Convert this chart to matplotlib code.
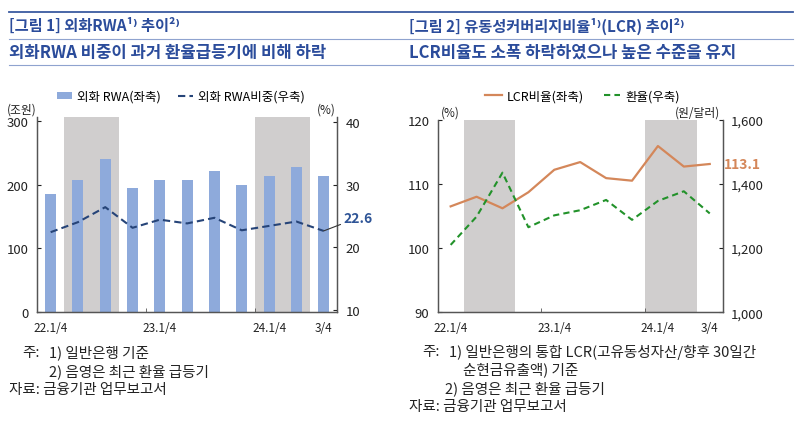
import matplotlib
matplotlib.use("Agg")
import matplotlib.pyplot as plt
from matplotlib.lines import Line2D

plt.rcParams['font.family'] = ['Noto Sans CJK KR', 'DejaVu Sans']
plt.rcParams['axes.unicode_minus'] = False

# 데이터
quarters = ['22.1/4', '22.2/4', '22.3/4', '22.4/4', '23.1/4', '23.2/4', '23.3/4', '23.4/4',
            '24.1/4', '24.2/4', '24.3/4']
tick_idx = [0, 4, 8, 10]
tick_lab = ['22.1/4', '23.1/4', '24.1/4', '3/4']
fx_rwa = [186, 207, 240, 195, 208, 207, 221, 199, 214, 228, 214]        # 조원
fx_rwa_share = [22.4, 24.0, 26.4, 23.1, 24.4, 23.8, 24.7, 22.7, 23.4, 24.1, 22.6]  # %
lcr = [106.5, 108.0, 106.2, 108.7, 112.2, 113.4, 110.9, 110.5, 115.9, 112.7, 113.1]  # %
krw_usd = [1210, 1298, 1435, 1265, 1302, 1318, 1350, 1288, 1347, 1377, 1308]  # 원/달러
shade = [(0.5, 2.5), (7.5, 9.5)]

W, H = 800, 431
BAR_C = '#8EAADB'
SHADE_C = '#D0CECE'
NAVY = '#264478'
ORANGE = '#D4875A'
GREEN = '#22922A'
TITLE_C = '#2B4C9B'
TXT = '#222222'


def fxy(x, y):
    return x / W, 1 - y / H


def box(x0, y0, x1, y1):
    return [x0 / W, 1 - y1 / H, (x1 - x0) / W, (y1 - y0) / H]


fig = plt.figure(figsize=(8, 4.31), dpi=100)

# 상단 제목 줄
for y, lw, c in [(13, 1.3, '#3A5AA0'), (39.5, 0.8, '#8FA3CF'), (66, 0.8, '#8FA3CF')]:
    fig.add_artist(Line2D([9 / W, 793 / W], [1 - y / H, 1 - y / H], lw=lw, color=c))

fig.text(*fxy(9, 26), '[그림 1] 외화RWA¹⁾ 추이²⁾', fontsize=11, fontweight='bold',
         color=TITLE_C, va='center', ha='left')
fig.text(*fxy(9, 53), '외화RWA 비중이 과거 환율급등기에 비해 하락', fontsize=12, fontweight='bold',
         color=TITLE_C, va='center', ha='left')
fig.text(*fxy(409, 26), '[그림 2] 유동성커버리지비율¹⁾(LCR) 추이²⁾', fontsize=11, fontweight='bold',
         color=TITLE_C, va='center', ha='left')
fig.text(*fxy(409, 53), 'LCR비율도 소폭 하락하였으나 높은 수준을 유지', fontsize=12, fontweight='bold',
         color=TITLE_C, va='center', ha='left')


def style(ax, axr):
    for a in (ax, axr):
        a.spines['top'].set_visible(False)
        for s in ('left', 'right', 'bottom'):
            a.spines[s].set_color('#555555')
            a.spines[s].set_linewidth(0.9)
        a.tick_params(axis='y', direction='in', length=3, labelsize=9.5, colors=TXT, pad=6)
    ax.set_xlim(-0.5, len(quarters) - 0.5)
    ax.set_xticks(tick_idx)
    ax.set_xticklabels(tick_lab)
    ax.tick_params(axis='x', which='major', length=0, labelsize=8.5, colors=TXT, pad=6)
    ax.set_xticks([3.5, 7.5], minor=True)
    ax.tick_params(axis='x', which='minor', direction='in', length=3, color='#555555')
    for a, b in shade:
        ax.axvspan(a, b, color=SHADE_C, lw=0, zorder=0)


# 그림 1
ax1 = fig.add_axes(box(37, 118, 337.3, 313.3))
ax1r = ax1.twinx()
x = list(range(len(quarters)))
bars = ax1.bar(x, fx_rwa, width=0.4, color=BAR_C, zorder=2, label='외화 RWA(좌축)')
ax1.set_ylim(0, 306)
ax1.set_yticks([0, 100, 200, 300])
ln1, = ax1r.plot(x, fx_rwa_share, color=NAVY, lw=1.5, ls=(0, (3.5, 2)), label='외화 RWA비중(우축)')
ax1r.set_ylim(9.6, 40.8)
ax1r.set_yticks([10, 20, 30, 40])
style(ax1, ax1r)
ax1r.annotate('22.6', xy=(10, fx_rwa_share[-1]), xytext=(10.72, 24.7), ha='left', va='center',
              fontsize=10, fontweight='bold', color='#2F5597', annotation_clip=False,
              arrowprops=dict(arrowstyle='-', color='#333333', lw=0.8, shrinkA=0, shrinkB=0))
ax1.text(-0.1, 1.04, '(조원)', transform=ax1.transAxes, fontsize=8.5, color=TXT, ha='left', va='center')
ax1.text(0.995, 1.04, '(%)', transform=ax1.transAxes, fontsize=8.5, color=TXT, ha='right', va='center')
ax1.legend([bars, ln1], ['외화 RWA(좌축)', '외화 RWA비중(우축)'], loc='center',
           bbox_to_anchor=(0.48, 1.107), ncol=2, frameon=False, fontsize=9,
           handlelength=1.2, handletextpad=0.4, columnspacing=1.4, handleheight=0.5)

# 그림 2
ax2 = fig.add_axes(box(437.7, 120.7, 722.7, 313.3))
ax2r = ax2.twinx()
ln2, = ax2.plot(x, lcr, color=ORANGE, lw=1.6, label='LCR비율(좌축)', zorder=3)
ax2.set_ylim(90, 120)
ax2.set_yticks([90, 100, 110, 120])
ln3, = ax2r.plot(x, krw_usd, color=GREEN, lw=1.5, ls=(0, (3, 2)), label='환율(우축)')
ax2r.set_ylim(1000, 1600)
ax2r.set_yticks([1000, 1200, 1400, 1600])
ax2r.set_yticklabels(['1,000', '1,200', '1,400', '1,600'])
style(ax2, ax2r)
ax2.text(10.55, lcr[-1], '113.1', fontsize=10, fontweight='bold', color=ORANGE, ha='left',
         va='center', clip_on=False)
ax2.text(0.01, 1.04, '(%)', transform=ax2.transAxes, fontsize=8.5, color=TXT, ha='left', va='center')
ax2.text(0.99, 1.04, '(원/달러)', transform=ax2.transAxes, fontsize=8.5, color=TXT, ha='right', va='center')
ax2.legend([ln2, ln3], ['LCR비율(좌축)', '환율(우축)'], loc='center',
           bbox_to_anchor=(0.508, 1.123), ncol=2, frameon=False, fontsize=9,
           handlelength=1.3, handletextpad=0.4, columnspacing=1.6)

# 주석
nfs = 10.5
fig.text(*fxy(22, 353), '주:', fontsize=nfs, color=TXT, va='center')
fig.text(*fxy(49, 353), '1) 일반은행 기준', fontsize=nfs, color=TXT, va='center')
fig.text(*fxy(49, 372), '2) 음영은 최근 환율 급등기', fontsize=nfs, color=TXT, va='center')
fig.text(*fxy(9, 390), '자료: 금융기관 업무보고서', fontsize=nfs, color=TXT, va='center')

fig.text(*fxy(422, 352), '주:', fontsize=nfs, color=TXT, va='center')
fig.text(*fxy(449, 352), '1) 일반은행의 통합 LCR(고유동성자산/향후 30일간', fontsize=nfs, color=TXT, va='center')
fig.text(*fxy(463, 370), '순현금유출액) 기준', fontsize=nfs, color=TXT, va='center')
fig.text(*fxy(445, 389), '2) 음영은 최근 환율 급등기', fontsize=nfs, color=TXT, va='center')
fig.text(*fxy(409, 407), '자료: 금융기관 업무보고서', fontsize=nfs, color=TXT, va='center')

fig.savefig('out.png', dpi=100)
